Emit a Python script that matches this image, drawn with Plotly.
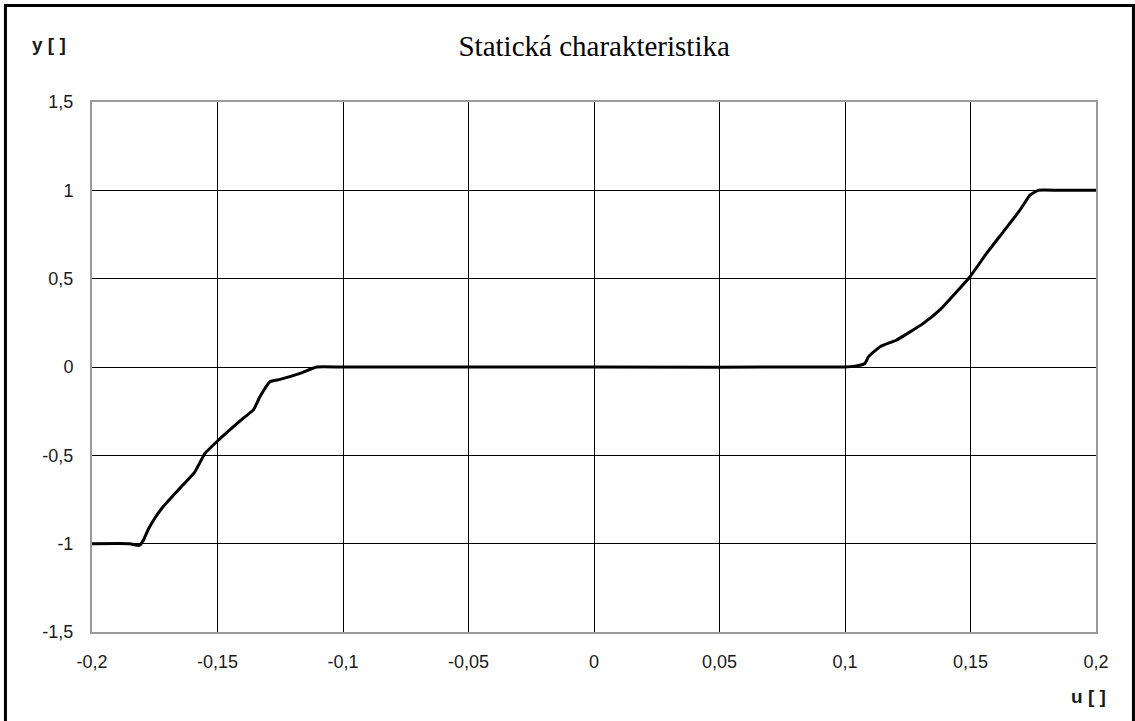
import plotly.graph_objects as go

# Data
u_vals = [-0.200, -0.185, -0.1812, -0.1796, -0.1776, -0.175, -0.1716, -0.165, -0.159,
          -0.155, -0.1503, -0.1397, -0.1357, -0.1331, -0.1291, -0.1251, -0.1171,
          -0.1105, -0.100, 0.000, 0.100, 0.1040, 0.1079, 0.1093, 0.114, 0.1206,
          0.1312, 0.1378, 0.1445, 0.1498, 0.1564, 0.1631, 0.1697, 0.1737, 0.177,
          0.185, 0.200]
y_vals = [-1.000, -1.000, -1.010, -0.983, -0.920, -0.856, -0.790, -0.687, -0.593,
          -0.489, -0.423, -0.290, -0.243, -0.168, -0.083, -0.070, -0.036,
          0.000, 0.000, 0.000, 0.000, 0.005, 0.020, 0.057, 0.115, 0.153,
          0.247, 0.323, 0.426, 0.511, 0.643, 0.766, 0.888, 0.973, 1.000,
          1.000, 1.000]

x_ticks = [-0.2, -0.15, -0.1, -0.05, 0, 0.05, 0.1, 0.15, 0.2]
x_ticklabels = ["-0,2", "-0,15", "-0,1", "-0,05", "0", "0,05", "0,1", "0,15", "0,2"]
y_ticks = [-1.5, -1, -0.5, 0, 0.5, 1, 1.5]
y_ticklabels = ["-1,5", "-1", "-0,5", "0", "0,5", "1", "1,5"]

title_text = "Statická charakteristika"
y_label = "y [ ]"
x_label = "u [ ]"

fig = go.Figure()
fig.add_trace(go.Scatter(
    x=u_vals, y=y_vals, mode="lines",
    line=dict(color="black", width=3, shape="spline", smoothing=0.4),
    showlegend=False, hoverinfo="skip",
))

tick_font = dict(family="Liberation Sans, Arial, sans-serif", size=18, color="#1a1a1a")
label_font = dict(family="Liberation Sans, Arial, sans-serif", size=19, color="#1a1a1a")

fig.update_layout(
    width=1135, height=721,
    margin=dict(l=92, r=39, t=102, b=89),
    paper_bgcolor="white", plot_bgcolor="white",
    showlegend=False,
    title=dict(text=title_text, x=0.5235, xanchor="center", y=0.937, yanchor="middle",
               font=dict(family="Liberation Serif, Times New Roman, serif", size=29, color="black")),
    xaxis=dict(range=[-0.2, 0.2], tickvals=x_ticks, ticktext=x_ticklabels,
               showgrid=True, gridcolor="black", gridwidth=1,
               zeroline=False, showline=True, linecolor="#9a9a9a", linewidth=2, mirror=True,
               ticks="", tickfont=tick_font, ticklabelstandoff=12, fixedrange=True),
    yaxis=dict(range=[-1.5, 1.5], tickvals=y_ticks, ticktext=y_ticklabels,
               showgrid=True, gridcolor="black", gridwidth=1,
               zeroline=False, showline=True, linecolor="#9a9a9a", linewidth=2, mirror=True,
               ticks="", tickfont=tick_font, ticklabelstandoff=13, fixedrange=True),
    annotations=[
        dict(text="<b>" + y_label + "</b>", xref="paper", yref="paper",
             x=-0.0618, y=1.109, xanchor="left", yanchor="middle", showarrow=False,
             font=label_font),
        dict(text="<b>" + x_label + "</b>", xref="paper", yref="paper",
             x=1.012, y=-0.1226, xanchor="right", yanchor="middle", showarrow=False,
             font=label_font),
    ],
    shapes=[
        dict(type="rect", xref="paper", yref="paper",
             x0=-0.0862, x1=1.0373, y0=-0.2, y1=1.182,
             line=dict(color="black", width=3), fillcolor="rgba(0,0,0,0)", layer="above"),
    ],
)

fig.write_html("out.html", config={"displayModeBar": False},
               post_script="document.body.style.margin='0';document.body.style.padding='0';")
